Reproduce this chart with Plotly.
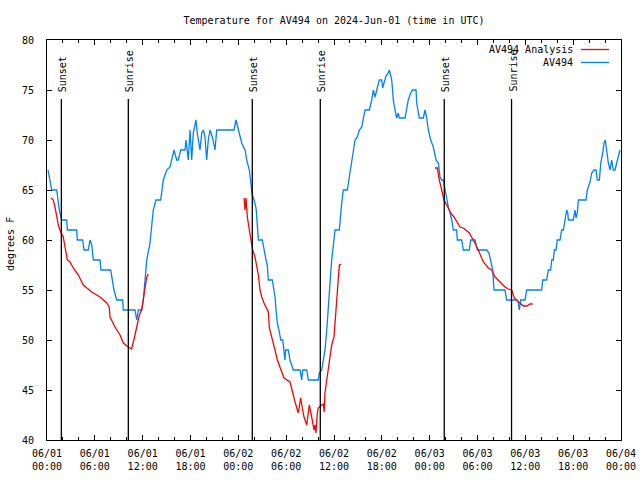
import pandas as pd
import plotly.graph_objects as go

# ---------------- data (hours since 2024-06-01 00:00 UTC, degrees F) ----------------
start = "2024-06-01 00:00"

obs_hours = [0.13, 0.59, 1.22, 1.54, 1.84, 2.47, 2.55, 3.73, 3.80, 4.48, 4.64, 5.18, 5.39, 5.61, 5.81,
             6.65, 6.77, 7.99, 8.40, 8.74, 9.50, 9.57, 11.04, 11.25, 11.45, 11.88, 12.08, 12.29, 12.51,
             12.92, 13.33, 13.67, 14.26, 14.59, 15.02, 15.43, 15.72, 15.93, 16.27, 16.47, 16.77, 17.31,
             17.44, 17.72, 17.94, 18.15, 18.35, 18.69, 18.85, 19.19, 19.41, 19.61, 19.82, 20.03, 20.23,
             20.45, 20.78, 21.07, 21.29, 23.46, 23.71, 24.00, 24.42, 24.84, 25.05, 25.38, 25.55, 25.75,
             25.97, 26.22, 26.43, 26.51, 27.01, 27.22, 27.47, 27.63, 27.76, 28.26, 28.60, 28.73, 28.89,
             29.14, 29.32, 29.57, 29.73, 29.85, 29.94, 30.27, 30.48, 30.90, 31.74, 31.95, 32.07, 32.58,
             32.78, 34.03, 34.16, 34.46, 34.66, 34.87, 35.09, 35.29, 35.50, 35.71, 36.13, 36.67, 36.84,
             36.97, 37.17, 37.67, 37.92, 38.22, 38.64, 38.93, 39.18, 39.48, 39.89, 40.43, 40.73, 40.93,
             41.15, 41.36, 41.68, 41.98, 42.11, 42.27, 42.52, 42.81, 42.94, 43.24, 43.44, 43.65, 43.87,
             44.07, 44.19, 44.91, 45.12, 45.32, 45.62, 45.87, 46.29, 46.37, 46.57, 46.70, 47.20, 47.42,
             47.63, 47.83, 48.13, 48.46, 48.80, 49.09, 49.30, 49.51, 49.71, 49.93, 50.14, 50.34, 50.55,
             50.77, 50.97, 51.39, 51.47, 52.02, 52.22, 52.97, 53.15, 53.69, 53.98, 55.16, 55.44, 55.66,
             55.91, 56.07, 57.45, 57.66, 58.92, 59.12, 59.25, 59.42, 59.96, 60.17, 62.05, 62.18, 62.68,
             62.88, 63.18, 63.31, 63.51, 63.64, 63.85, 64.01, 64.35, 64.56, 64.77, 64.98, 65.19, 65.32,
             65.40, 66.02, 66.23, 66.36, 66.52, 66.65, 67.61, 67.78, 68.11, 68.33, 68.62, 68.87, 69.03,
             69.29, 69.46, 69.71, 69.87, 70.03, 70.21, 70.41, 70.62, 70.83, 71.03, 71.25, 71.46, 71.66,
             71.88]
obs_temps = [67.0, 65.0, 65.0, 63.0, 62.0, 62.0, 61.0, 61.0, 60.0, 60.0, 59.0, 59.0, 60.0, 59.5, 58.0,
             58.0, 57.0, 57.0, 55.0, 54.0, 54.0, 53.0, 53.0, 52.0, 53.0, 53.0, 54.0, 55.7, 58.0,
             59.7, 63.0, 64.0, 64.0, 66.0, 67.0, 67.3, 68.3, 69.0, 68.0, 68.0, 69.0, 69.0,
             70.0, 68.0, 71.0, 68.0, 70.7, 72.0, 70.7, 69.0, 70.7, 71.0, 70.3, 68.0, 70.0,
             71.0, 70.2, 69.0, 71.0, 71.0, 72.0, 71.0, 69.7, 69.0, 68.0, 67.0, 65.7, 64.5,
             64.0, 63.2, 61.0, 60.0, 60.0, 59.0, 58.0, 57.5, 56.0, 56.0, 54.3, 53.0, 51.7,
             50.8, 50.0, 50.0, 49.0, 48.0, 49.0, 49.0, 48.0, 47.0, 47.0, 46.0, 47.0, 47.0,
             46.0, 46.0, 46.7, 47.0, 48.0, 49.0, 51.0, 53.7, 55.7, 58.0, 61.0, 61.0, 62.7,
             63.7, 65.0, 65.0, 66.3, 67.7, 70.0, 70.3, 71.0, 71.3, 73.0, 73.0, 74.0, 75.0,
             74.3, 75.0, 76.0, 76.0, 75.2, 75.7, 76.4, 76.7, 77.0, 76.0, 74.0, 73.0, 72.2,
             72.7, 72.2, 72.2, 73.0, 74.0, 74.7, 75.0, 75.0, 73.7, 72.8, 72.2, 72.2, 73.0,
             72.2, 71.0, 70.0, 69.3, 68.0, 67.7, 66.3, 66.0, 66.0, 65.0, 64.0, 63.3, 62.7,
             62.0, 61.0, 61.0, 60.0, 60.0, 59.0, 59.0, 60.0, 60.0, 59.0, 59.0, 58.7, 58.0,
             57.0, 55.0, 55.0, 54.0, 54.0, 53.7, 53.0, 54.0, 54.0, 55.0, 55.0, 56.0, 56.0,
             57.0, 57.0, 58.0, 58.0, 59.0, 59.0, 60.0, 60.0, 61.0, 61.0, 62.0, 63.0, 62.7,
             62.0, 62.0, 63.0, 62.2, 62.7, 64.0, 64.0, 65.0, 65.8, 66.7, 67.0, 67.0, 66.0,
             66.0, 67.7, 68.7, 69.7, 70.0, 68.7, 67.7, 67.0, 68.0, 67.0, 67.0, 67.7, 68.4,
             69.0]

ana1_hours = [0.50, 0.79, 1.00, 1.22, 1.42, 1.72, 2.04, 2.26, 2.55, 2.89, 3.30, 3.93, 4.55, 5.61, 6.65,
              7.49, 7.81, 7.90, 8.53, 9.16, 9.57, 10.20, 10.62, 11.04, 11.33, 11.58, 11.88, 12.08,
              12.29, 12.51, 12.71]
ana1_temps = [64.2, 64.0, 63.3, 62.5, 61.5, 60.8, 60.3, 59.3, 58.0, 57.8, 57.2, 56.5, 55.5, 54.8, 54.3,
              53.7, 53.3, 52.3, 51.3, 50.5, 49.7, 49.3, 49.1, 50.5, 51.7, 52.5, 53.0, 54.0,
              55.3, 56.3, 56.6]
ana2_hours = [24.71, 24.84, 24.96, 25.13, 25.38, 25.55, 25.80, 26.09, 26.31, 26.51, 26.72, 26.93, 27.22,
              27.76, 27.89, 28.31, 28.60, 28.89, 29.23, 29.73, 30.48, 30.70, 31.11, 31.52, 31.82, 32.07,
              32.24, 32.58, 32.90, 33.20, 33.49, 33.62, 33.74, 33.91, 34.03, 34.46, 34.66, 34.78, 34.87,
              35.09, 35.29, 35.71, 36.00, 36.25, 36.42, 36.67, 36.88]
ana2_temps = [64.2, 63.0, 64.2, 62.3, 61.0, 60.0, 59.0, 58.3, 57.3, 56.5, 55.0, 54.3, 53.7,
              52.8, 51.2, 50.0, 49.0, 48.0, 47.2, 46.2, 45.8, 45.0, 43.8, 42.7, 44.2, 43.0,
              42.3, 41.5, 43.5, 42.3, 41.0, 41.5, 40.7, 42.7, 43.2, 43.5, 43.6, 42.8, 44.7,
              46.0, 47.3, 49.5, 50.3, 53.0, 55.0, 57.5, 57.6]
ana3_hours = [48.67, 48.96, 49.21, 49.51, 49.80, 50.14, 50.64, 51.05, 51.39, 51.81, 52.22, 52.97, 53.47,
              54.10, 54.73, 55.36, 55.78, 56.20, 56.83, 57.45, 57.87, 58.29, 58.62, 59.12, 59.75, 60.17,
              60.59, 60.93]
ana3_temps = [67.2, 67.2, 66.0, 65.0, 64.0, 63.5, 62.7, 62.3, 61.8, 61.3, 61.2, 60.7, 60.0,
              59.0, 57.8, 57.2, 57.0, 56.3, 55.8, 55.3, 55.1, 55.0, 54.2, 53.8, 53.4, 53.4,
              53.6, 53.6]

event_labels = ["Sunset", "Sunrise", "Sunset", "Sunrise", "Sunset", "Sunrise"]
event_hours = [1.80, 10.20, 25.75, 34.28, 49.83, 58.27]

series_names = ["AV494 Analysis", "AV494"]
series_colors = ["#ff0000", "#0080ff"]

title_text = "Temperature for AV494 on 2024-Jun-01 (time in UTC)"
y_title = "degrees F"
x_range = ["2024-06-01 00:00", "2024-06-04 00:00"]
y_range = [40, 80]

# ---------------- build ----------------
t0 = pd.Timestamp(start)


def to_time(hours):
    return [t0 + pd.Timedelta(hours=h) for h in hours]


FONT = "DejaVu Sans Mono"
W, H = 640, 480
ML, MR, MT, MB = 47, 19, 40, 40
PW, PH = W - ML - MR, H - MT - MB

ana_x, ana_y = [], []
for hs, ts in [(ana1_hours, ana1_temps), (ana2_hours, ana2_temps), (ana3_hours, ana3_temps)]:
    ana_x += to_time(hs) + [None]
    ana_y += ts + [None]

fig = go.Figure()
fig.add_trace(go.Scatter(x=to_time(obs_hours), y=obs_temps, mode="lines", name=series_names[1],
                         line=dict(color=series_colors[1], width=1.3), showlegend=False))
fig.add_trace(go.Scatter(x=ana_x, y=ana_y, mode="lines", name=series_names[0], connectgaps=False,
                         line=dict(color=series_colors[0], width=1.3), showlegend=False))

# sunrise / sunset markers
for lab, h in zip(event_labels, event_hours):
    tx = t0 + pd.Timedelta(hours=h)
    fig.add_shape(type="line", xref="x", yref="y", x0=tx, x1=tx, y0=y_range[0], y1=74.1,
                  line=dict(color="black", width=1.3))
    fig.add_annotation(x=tx, y=74.6, xref="x", yref="y", text=lab, textangle=-90, showarrow=False,
                       xanchor="center", yanchor="bottom", xshift=1,
                       font=dict(family=FONT, size=10, color="black"))

# gnuplot-style key (text, then line sample) in the top right corner
for i, (nm, col) in enumerate(zip(series_names, series_colors)):
    ypx = 49.5 + i * 13
    yy = 1 - (ypx - MT) / PH
    fig.add_annotation(x=(575 - ML) / PW, y=yy, xref="paper", yref="paper", text=nm, showarrow=False,
                       xanchor="right", yanchor="middle", font=dict(family=FONT, size=10, color="black"))
    fig.add_shape(type="line", xref="paper", yref="paper", x0=(581 - ML) / PW, x1=(609 - ML) / PW,
                  y0=yy, y1=yy, line=dict(color=col, width=1.3))

# y axis title
fig.add_annotation(x=(10 - ML) / PW, y=0.49, xref="paper", yref="paper", text=y_title, textangle=-90,
                   showarrow=False, xanchor="center", yanchor="middle",
                   font=dict(family=FONT, size=10, color="black"))

fig.update_layout(
    width=W, height=H,
    margin=dict(l=ML, r=MR, t=MT, b=MB, autoexpand=False),
    paper_bgcolor="white", plot_bgcolor="white",
    font=dict(family=FONT, size=10, color="black"),
    title=dict(text=title_text, x=(ML + W - MR) / 2 / W, xanchor="center", y=1 - 20 / H,
               yanchor="middle", font=dict(family=FONT, size=10, color="black")),
    showlegend=False,
)
fig.update_xaxes(
    type="date", range=x_range, dtick=6 * 3600 * 1000, tick0=x_range[0], automargin=False,
    tickformat="%m/%d<br>%H:%M", ticks="inside", ticklen=5, tickwidth=1, tickcolor="black",
    minor=dict(dtick=2 * 3600 * 1000, ticks="inside", ticklen=3, tickcolor="black", tickwidth=1),
    showline=True, linecolor="black", linewidth=1, mirror="ticks", showgrid=False, zeroline=False,
    ticklabelstandoff=4, tickfont=dict(family=FONT, size=10, color="black"),
)
fig.update_yaxes(
    range=y_range, dtick=5, ticks="inside", ticklen=5, tickwidth=1, tickcolor="black", automargin=False,
    showline=True, linecolor="black", linewidth=1, mirror="ticks", showgrid=False, zeroline=False,
    ticklabelstandoff=10, tickfont=dict(family=FONT, size=10, color="black"),
)

fig.write_html("out.html", config={"displayModeBar": False},
               post_script="document.body.style.margin='0';document.body.style.padding='0';")
